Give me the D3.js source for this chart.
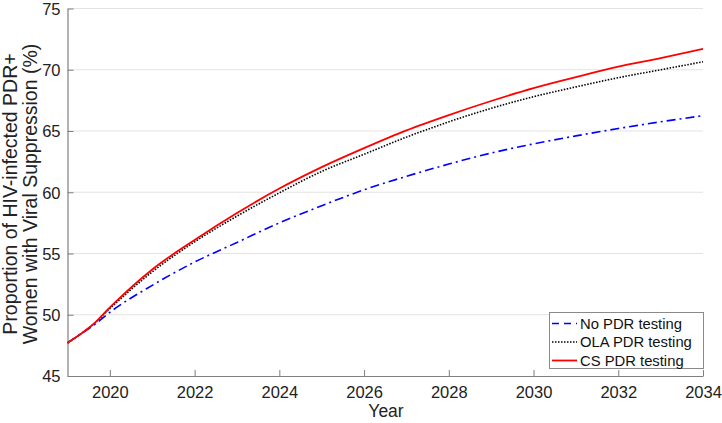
<!DOCTYPE html>
<html><head><meta charset="utf-8">
<script src="https://cdn.jsdelivr.net/npm/d3@7"></script>
<style>body{margin:0;background:#fff;} svg{display:block;font-family:"Liberation Sans",Arial,Helvetica,sans-serif;}</style>
</head><body><svg id="c" width="722" height="423"></svg>
<script>
const years = [2019, 2019.3, 2019.6, 2020, 2021, 2022, 2023, 2024, 2025, 2026, 2027, 2028, 2029, 2030, 2031, 2032, 2033, 2034];
const noPDR = [47.7, 48.4, 49.1, 50.2, 52.4, 54.3, 55.9, 57.5, 58.9, 60.2, 61.3, 62.3, 63.2, 63.95, 64.6, 65.2, 65.75, 66.25];
const olaPDR = [47.7, 48.4, 49.2, 50.5, 53.5, 55.95, 58.05, 59.95, 61.7, 63.1, 64.5, 65.75, 66.85, 67.8, 68.6, 69.35, 70.0, 70.65];
const csPDR = [47.7, 48.4, 49.2, 50.6, 53.7, 56.1, 58.3, 60.3, 62.05, 63.6, 65.05, 66.3, 67.45, 68.5, 69.4, 70.25, 70.95, 71.7];
const xTicks = [2020, 2022, 2024, 2026, 2028, 2030, 2032, 2034];
const yTicks = [45, 50, 55, 60, 65, 70, 75];
const seriesNames = ["No PDR testing", "OLA PDR testing", "CS PDR testing"];

const svg = d3.select("#c");
const L = 67.5, R = 703, T = 8.5, B = 376;
const x = d3.scaleLinear().domain([2019, 2034]).range([L, R]);
const y = d3.scaleLinear().domain([45, 75]).range([B, T]);

// grid
svg.append("g").selectAll("line").data(yTicks.slice(1)).join("line")
  .attr("x1", L).attr("x2", R).attr("y1", d => y(d)).attr("y2", d => y(d))
  .attr("stroke", "#e3e3e3").attr("stroke-width", 1);

// axes
const xAxis = svg.append("g").attr("transform", `translate(0,${B})`)
  .call(d3.axisBottom(x).tickValues(xTicks).tickFormat(d3.format("d")).tickSizeInner(-6).tickSizeOuter(0));
const yAxis = svg.append("g").attr("transform", `translate(${L},0)`)
  .call(d3.axisLeft(y).tickValues(yTicks).tickSizeInner(-6).tickSizeOuter(0));
[xAxis, yAxis].forEach(a => {
  a.select(".domain").attr("stroke", "#7f7f7f").attr("stroke-width", 1.2);
  a.selectAll(".tick line").attr("stroke", "#7f7f7f");
  a.selectAll("text").attr("fill", "#222").attr("font-size", 16.5).attr("font-family", "Liberation Sans, Arial, sans-serif");
});
xAxis.selectAll("text").attr("dy", 0).attr("y", 22);
yAxis.selectAll("text").attr("x", -7).attr("dy", "0.36em");

// lines
const series = [
  {name: seriesNames[0], vals: noPDR, color: "#0000ff", dash: "9,4,2,4", w: 1.6},
  {name: seriesNames[1], vals: olaPDR, color: "#000000", dash: "1.5,1.5", w: 1.6},
  {name: seriesNames[2], vals: csPDR, color: "#ff0000", dash: null, w: 1.8}
];
const line = d3.line().x(d => x(d[0])).y(d => y(d[1])).curve(d3.curveMonotoneX);
series.forEach(s => {
  svg.append("path").datum(years.map((yr, i) => [yr, s.vals[i]]))
    .attr("d", line).attr("fill", "none").attr("stroke", s.color)
    .attr("stroke-width", s.w).attr("stroke-dasharray", s.dash);
});

// labels
svg.append("text").attr("x", 386).attr("y", 417).attr("text-anchor", "middle")
  .attr("font-size", 17.5).attr("fill", "#222").text("Year");
const yl = svg.append("text").attr("transform", "translate(0,194) rotate(-90)")
  .attr("text-anchor", "middle").attr("font-size", 19.5).attr("fill", "#222");
yl.append("tspan").attr("x", 0).attr("y", 16.5).text("Proportion of HIV-infected PDR+");
yl.append("tspan").attr("x", 0).attr("y", 37).text("Women with Viral Suppression (%)");

// legend
const lg = svg.append("g");
lg.append("rect").attr("x", 549.5).attr("y", 312.5).attr("width", 154).attr("height", 56)
  .attr("fill", "#fff").attr("stroke", "#8a8a8a").attr("stroke-width", 1);
const legendDash = ["7,5", "1.5,1.5", null];
series.forEach((s, i) => {
  const yy = 323.5 + i * 18.5;
  lg.append("line").attr("x1", 552).attr("x2", 577).attr("y1", yy).attr("y2", yy)
    .attr("stroke", s.color).attr("stroke-width", s.w).attr("stroke-dasharray", legendDash[i]);
  lg.append("text").attr("x", 580).attr("y", yy).attr("dy", "0.36em")
    .attr("font-size", 14.8).attr("fill", "#111").text(s.name);
});
</script></body></html>
